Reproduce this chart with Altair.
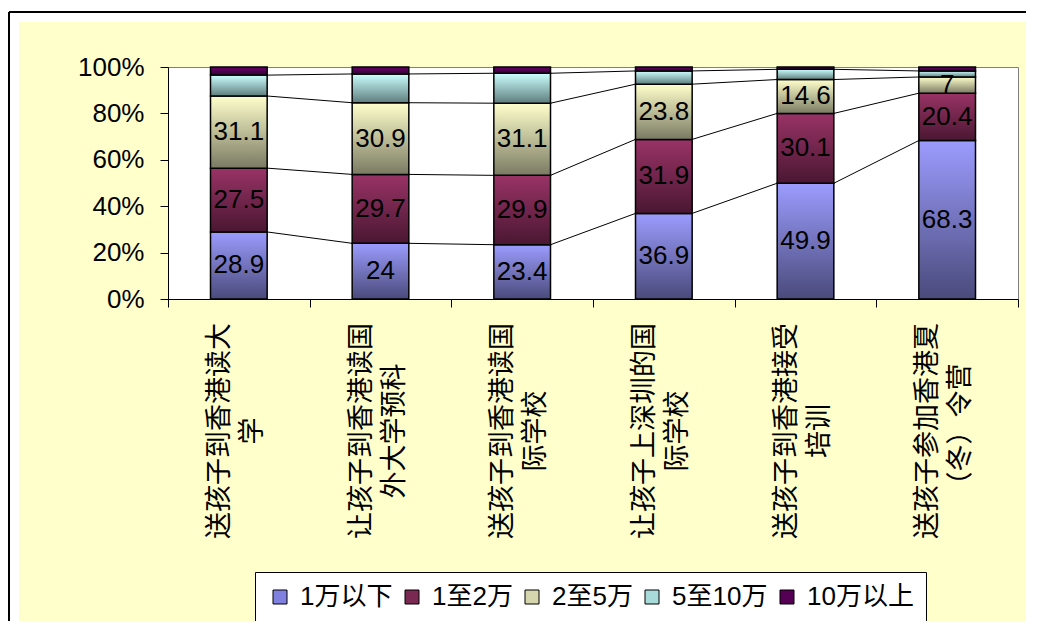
import altair as alt
import pandas as pd

# ---- data ----
categories = [
    "送孩子到香港读大\n学",
    "让孩子到香港读国\n外大学预科",
    "送孩子到香港读国\n际学校",
    "让孩子上深圳的国\n际学校",
    "送孩子到香港接受\n培训",
    "送孩子参加香港夏\n（冬）令营",
]
series = ["1万以下", "1至2万", "2至5万", "5至10万", "10万以上"]
v_under1 = [28.9, 24, 23.4, 36.9, 49.9, 68.3]
v_1to2 = [27.5, 29.7, 29.9, 31.9, 30.1, 20.4]
v_2to5 = [31.1, 30.9, 31.1, 23.8, 14.6, 7]
v_5to10 = [9.0, 12.4, 12.9, 5.7, 4.4, 2.6]
v_over10 = [3.5, 3.0, 2.7, 1.7, 1.0, 1.7]

top_colors = ["#9C9CFF", "#993366", "#FFFFCC", "#CCFFFF", "#6A006A"]
bottom_colors = ["#4A4A7B", "#4A1732", "#7A7A63", "#5F7D7D", "#330033"]
legend_colors = ["#8080E0", "#7A2A52", "#D6D6AE", "#A8DADA", "#550055"]

values = [v_under1, v_1to2, v_2to5, v_5to10, v_over10]
rows = []
for s_i, (s, vals) in enumerate(zip(series, values)):
    for c_i, v in enumerate(vals):
        rows.append({"idx": c_i, "series": s, "order": s_i, "value": v})
df = pd.DataFrame(rows)
cat_df = pd.DataFrame({"idx": list(range(len(categories))), "label": categories})
one = pd.DataFrame({"k": [0]})

NUM_FONT = "Liberation Sans, Arial, Noto Sans CJK SC"
CJK_FONT = "Noto Sans CJK SC"
BG = "#FFFFCC"

XSCALE = alt.Scale(domain=[-0.5, 5.5], nice=False, zero=False)
YSCALE = alt.Scale(domain=[0, 1], nice=False, zero=True)
x_axis = alt.Axis(values=[-0.5 + i for i in range(7)], labels=False, title=None,
                  grid=False, tickSize=8, domainColor="black", tickColor="black")
y_axis = alt.Axis(values=[0, 0.2, 0.4, 0.6, 0.8, 1.0], format=".0%", title=None,
                  grid=False, tickSize=8, labelFontSize=26, labelFont=NUM_FONT,
                  labelColor="black", labelPadding=16, domainColor="black",
                  tickColor="black")


def X(field):
    return alt.X(field, type="quantitative", scale=XSCALE, axis=x_axis)


def Y(field):
    return alt.Y(field, type="quantitative", scale=YSCALE, axis=y_axis)


stacked = alt.Chart(df).transform_stack(
    stack="value", groupby=["idx"], as_=["y0", "y1"], offset="normalize",
    sort=[alt.SortField("order", order="ascending")]
)

layers = []

# decorative frame (outside plot area)
layers.append(alt.Chart(one).mark_rect(color="white").encode(
    x=alt.value(-160), x2=alt.value(858), y=alt.value(-59), y2=alt.value(-45)))
layers.append(alt.Chart(one).mark_rect(color="white").encode(
    x=alt.value(-160), x2=alt.value(-149), y=alt.value(-59), y2=alt.value(554)))
layers.append(alt.Chart(one).mark_rule(color="black", strokeWidth=2).encode(
    x=alt.value(-159), x2=alt.value(858), y=alt.value(-55)))
layers.append(alt.Chart(one).mark_rule(color="black", strokeWidth=2).encode(
    x=alt.value(-159), y=alt.value(-55), y2=alt.value(554)))

# stacked bars with gradients
for i, s in enumerate(series):
    grad = alt.LinearGradient(
        gradient="linear", x1=0, y1=0, x2=0, y2=1,
        stops=[alt.GradientStop(offset=0, color=top_colors[i]),
               alt.GradientStop(offset=1, color=bottom_colors[i])])
    layers.append(
        stacked.transform_filter(alt.datum.order == i)
        .transform_calculate(xl="datum.idx - 0.2", xr="datum.idx + 0.2")
        .mark_rect(color=grad, stroke="black", strokeWidth=1.5)
        .encode(x=X("xl"), x2="xr:Q", y=Y("y0"), y2="y1:Q")
    )

# series lines
layers.append(
    stacked.transform_window(
        window=[alt.WindowFieldDef(op="lead", field="y1", param=1, **{"as": "y1next"})],
        groupby=["series"], sort=[alt.SortField("idx", order="ascending")])
    .transform_filter("datum.order < 4 && datum.idx < 5")
    .transform_calculate(xa="datum.idx + 0.2", xb="datum.idx + 0.8")
    .mark_rule(color="black", strokeWidth=1)
    .encode(x=X("xa"), x2="xb:Q", y=Y("y1"), y2="y1next:Q")
)

# data labels
layers.append(
    stacked.transform_filter("datum.order < 3")
    .transform_calculate(ym="(datum.y0 + datum.y1) / 2")
    .mark_text(font=NUM_FONT, fontSize=26, color="black", align="center", baseline="middle")
    .encode(x=X("idx"), y=Y("ym"), text=alt.Text("value:Q", format="~g"))
)

# category labels (two lines, rotated, block centred under each bar)
layers.append(
    alt.Chart(cat_df).mark_text(angle=270, lineBreak="\n", align="center", baseline="middle",
                                fontSize=27, font=CJK_FONT, color="black", lineHeight=33,
                                dy=-19)
    .encode(x=X("idx"), y=alt.value(364), text="label:N")
)

# cover strips at the right / bottom canvas edges
layers.append(alt.Chart(one).mark_rect(color=BG).encode(
    x=alt.value(851), x2=alt.value(858), y=alt.value(-45), y2=alt.value(554)))
layers.append(alt.Chart(one).mark_rect(color=BG).encode(
    x=alt.value(-149), x2=alt.value(858), y=alt.value(549), y2=alt.value(554)))

# legend carrier
layers.append(
    alt.Chart(df).mark_square(opacity=0, size=1).encode(
        x=X("idx"),
        color=alt.Color("series:N", scale=alt.Scale(domain=series, range=legend_colors),
                        legend=alt.Legend(orient="none", legendX=87, legendY=505,
                                          direction="horizontal", fillColor="white",
                                          strokeColor="black", padding=12,
                                          labelFontSize=26, labelFont=NUM_FONT,
                                          labelColor="black", labelOffset=7,
                                          columnPadding=6, symbolType="square",
                                          symbolSize=196, symbolStrokeColor="black",
                                          symbolStrokeWidth=1, symbolOpacity=1,
                                          title=None, labelLimit=0))
    )
)

chart = alt.layer(*layers).properties(
    width=850, height=232,
    padding={"left": 160, "top": 59, "right": 8, "bottom": 322},
    autosize=alt.AutoSizeParams(type="none"),
    background=BG,
).configure_view(fill="white", stroke="#808080", strokeWidth=1)

chart.save("out.html", embed_options={"renderer": "svg", "actions": False})
